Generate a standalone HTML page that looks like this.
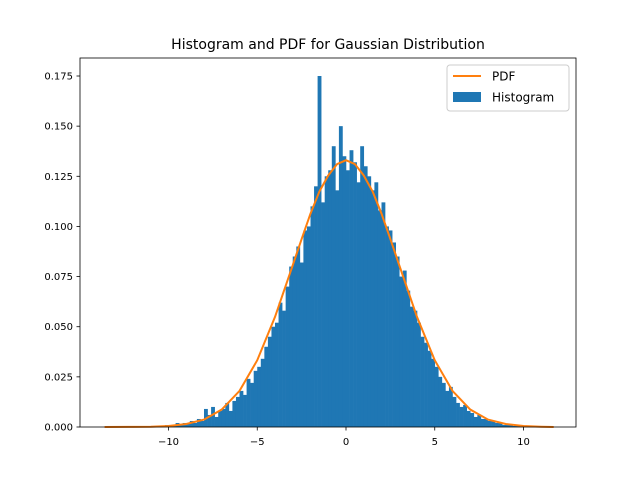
<!DOCTYPE html>
<html><head><meta charset="utf-8"><style>
body{margin:0;background:#fff}
svg text{font-family:"DejaVu Sans","Liberation Sans",sans-serif}
</style></head><body>
<svg id="chart" width="640" height="480" viewBox="0 0 640 480">
<rect width="640" height="480" fill="#fff"/>
<text x="328" y="49" text-anchor="middle" font-size="14">Histogram and PDF for Gaussian Distribution</text>
<g id="bars"></g>
<g id="pdf"></g>
<rect x="80" y="58" width="496" height="369" fill="none" stroke="#000" stroke-width="0.8"/>
<g id="xt"></g>
<g id="yt"></g>
<g>
<rect x="447" y="65" width="122" height="46" rx="3" fill="#fff" fill-opacity="0.8" stroke="#ccc"/>
<line x1="453" y1="76" x2="481" y2="76" stroke="#ff7f0e" stroke-width="2"/>
<text x="492" y="80.5" font-size="12">PDF</text>
<rect x="453" y="92" width="28" height="10" fill="#1f77b4"/>
<text x="492" y="101.5" font-size="12">Histogram</text>
</g>
</svg>
<script>
const binStart=-11, binWidth=0.2;
const binHeights=[0,0,0.0005,0,0.001, 0.001,0.0005,0.002,0.001,0.002, 0.002,0.003,0.002,0.004,0.003,
0.009,0.006,0.010,0.005,0.008, 0.009,0.012,0.008,0.013,0.015, 0.018,0.016,0.024,0.022,0.028,
0.030,0.034,0.040,0.045,0.050, 0.052,0.062,0.058,0.070,0.080, 0.085,0.090,0.082,0.098,0.100,
0.110,0.120,0.175,0.112,0.125, 0.128,0.140,0.118,0.150,0.135, 0.128,0.138,0.132,0.122,0.140,
0.130,0.125,0.118,0.122,0.108, 0.112,0.100,0.098,0.092,0.085, 0.075,0.078,0.068,0.060,0.058,
0.052,0.045,0.042,0.038,0.034, 0.030,0.025,0.022,0.018,0.020, 0.015,0.012,0.010,0.011,0.008,
0.007,0.005,0.006,0.004,0.004, 0.003,0.003,0.002,0.002,0.001, 0.001,0.001,0.0005,0.001,0,
0.0005,0,0,0,0];
const pdfX=[-13.6,-12,-11,-10,-9,-8,-7,-6,-5,-4,-3,-2.5,-2,-1.5,-1,-0.5,0,0.5,1,1.5,2,2.5,3,4,5,6,7,8,9,10,11,11.7];
const pdfY=[0,0.00004,0.00015,0.0005,0.0015,0.0037,0.0087,0.018,0.0333,0.0549,0.0807,0.0937,0.1064,0.1174,0.1254,0.1311,0.133,0.1311,0.1254,0.1174,0.1064,0.0937,0.0807,0.0549,0.0333,0.018,0.0087,0.0037,0.0015,0.0005,0.00015,0.00002];
const xTicks=[-10,-5,0,5,10];
const yTicks=[0,0.025,0.05,0.075,0.1,0.125,0.15,0.175];
const yTickLabels=["0.000","0.025","0.050","0.075","0.100","0.125","0.150","0.175"];
const NS="http://www.w3.org/2000/svg";
const X=v=>346+v*17.75, Y=v=>427-v*2005.7;
function mk(t,a,p){const e=document.createElementNS(NS,t);for(const k in a)e.setAttribute(k,a[k]);p.appendChild(e);return e;}
const bars=document.getElementById('bars');
binHeights.forEach((h,i)=>{if(h<=0)return;const x0=X(binStart+i*binWidth),x1=X(binStart+(i+1)*binWidth);
const r=mk('rect',{x:x0,y:Y(h),width:x1-x0+0.3,height:Y(0)-Y(h),fill:'#1f77b4'},bars);

});
const pl=mk('polyline',{points:pdfX.map((x,i)=>X(x)+','+Y(pdfY[i])).join(' '),fill:'none',stroke:'#ff7f0e','stroke-width':2},document.getElementById('pdf'));


const xt=document.getElementById('xt');
xTicks.forEach(v=>{const l=mk('line',{x1:X(v),x2:X(v),y1:427,y2:430.5,stroke:'#000','stroke-width':0.8},xt);


const t=mk('text',{x:X(v),y:445,'text-anchor':'middle','font-size':10},xt);t.textContent=v<0?'\u2212'+(-v):v;

});
const yt=document.getElementById('yt');
yTicks.forEach((v,i)=>{const l=mk('line',{x1:76.5,x2:80,y1:Y(v),y2:Y(v),stroke:'#000','stroke-width':0.8},yt);


const t=mk('text',{x:73,y:Y(v)+3.5,'text-anchor':'end','font-size':10},yt);t.textContent=yTickLabels[i];

});
</script>
</body></html>
